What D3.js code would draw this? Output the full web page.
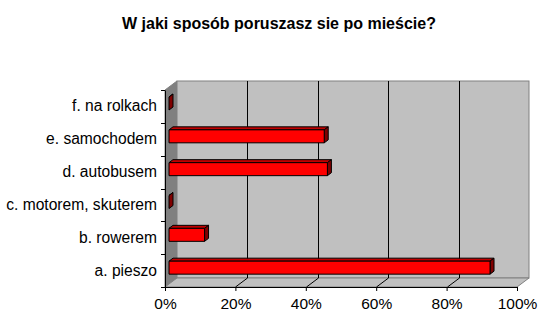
<!DOCTYPE html>
<html>
<head>
<meta charset="utf-8">
<script src="https://cdn.jsdelivr.net/npm/d3@7"></script>
<style>
  body { margin: 0; background: #fff; }
  text { font-family: "Liberation Sans", Arial, sans-serif; }
</style>
</head>
<body>
<div id="chart"></div>
<script>
const TITLE = 'W jaki sposób poruszasz sie po mieście?';
const categories = ['a. pieszo', 'b. rowerem', 'c. motorem, skuterem', 'd. autobusem', 'e. samochodem', 'f. na rolkach'];
const values = [0.912, 0.101, 0, 0.450, 0.441, 0];
const tickValues = [0, 0.2, 0.4, 0.6, 0.8, 1];

const WIDTH = 552;
const HEIGHT = 324;

// front plane of the 3d box
const plot = { left: 165, right: 517, top: 90, bottom: 287 };
// wall depth
const DX = 12;
const DY = -9;
// bar depth
const BX = 4;
const BY = -3;

const svg = d3.select('#chart')
  .append('svg')
  .attr('width', WIDTH)
  .attr('height', HEIGHT);

const x = d3.scaleLinear()
  .domain([0, 1])
  .range([plot.left, plot.right]);

// top of the chart is the last category
const y = d3.scaleBand()
  .domain(categories.slice().reverse())
  .range([plot.top, plot.bottom]);

const pts = arr => arr.map(p => p.join(',')).join(' ');

// left wall
svg.append('polygon')
  .attr('points', pts([
    [plot.left, plot.top], [plot.left + DX, plot.top + DY],
    [plot.left + DX, plot.bottom + DY], [plot.left, plot.bottom]
  ]))
  .attr('fill', '#808080')
  .attr('stroke', '#808080');

// back wall
svg.append('rect')
  .attr('x', plot.left + DX)
  .attr('y', plot.top + DY)
  .attr('width', plot.right - plot.left)
  .attr('height', plot.bottom - plot.top)
  .attr('fill', '#c0c0c0')
  .attr('stroke', '#808080');

// floor
svg.append('polygon')
  .attr('points', pts([
    [plot.left, plot.bottom], [plot.right, plot.bottom],
    [plot.right + DX, plot.bottom + DY], [plot.left + DX, plot.bottom + DY]
  ]))
  .attr('fill', '#c0c0c0')
  .attr('stroke', '#808080');

// gridlines: back wall + floor
tickValues.slice(1, -1).forEach(t => {
  const gx = Math.round(x(t)) + 0.5;
  svg.append('line')
    .attr('x1', gx + DX).attr('x2', gx + DX)
    .attr('y1', plot.top + DY).attr('y2', plot.bottom + DY)
    .attr('stroke', '#000');
  svg.append('line')
    .attr('x1', gx).attr('y1', plot.bottom)
    .attr('x2', gx + DX).attr('y2', plot.bottom + DY)
    .attr('stroke', '#000');
});

// bars
const data = categories.map((c, i) => ({ cat: c, value: values[i] }));
const bars = svg.append('g');

data.forEach(d => {
  const x0 = x(0) + BX;
  const x1 = x(d.value) + BX;
  const y0 = y(d.cat) + 7;
  const y1 = y0 + 13;
  const g = bars.append('g').attr('stroke', '#000').attr('stroke-linejoin', 'round');
  // top face
  g.append('polygon')
    .attr('points', pts([[x0, y0], [x0 + BX, y0 + BY], [x1 + BX, y0 + BY], [x1, y0]]))
    .attr('fill', '#c00000');
  // right face
  g.append('polygon')
    .attr('points', pts([[x1, y0], [x1 + BX, y0 + BY], [x1 + BX, y1 + BY], [x1, y1]]))
    .attr('fill', '#800000');
  // front face
  if (d.value > 0) {
    g.append('rect')
      .attr('x', x0).attr('y', y0)
      .attr('width', x1 - x0).attr('height', y1 - y0)
      .attr('fill', '#ff0000');
  }
});

// axes
svg.append('g')
  .attr('transform', 'translate(0,' + plot.bottom + ')')
  .call(d3.axisBottom(x).tickValues(tickValues).tickFormat(d3.format('.0%')).tickSize(4).tickPadding(7))
  .call(g => g.select('.domain').attr('stroke', '#000'))
  .call(g => g.selectAll('text').attr('font-size', 15.5).attr('fill', '#000').attr('font-family', '"Liberation Sans", Arial, sans-serif'));

svg.append('g')
  .attr('transform', 'translate(' + plot.left + ',0)')
  .call(d3.axisLeft(y).tickSize(0).tickPadding(8))
  .call(g => g.select('.domain').attr('stroke', '#000'))
  .call(g => g.selectAll('text').attr('font-size', 15.6).attr('fill', '#000').attr('font-family', '"Liberation Sans", Arial, sans-serif'));

// y tick marks at band edges
svg.append('g')
  .selectAll('line')
  .data(d3.range(categories.length + 1))
  .enter()
  .append('line')
  .attr('x1', plot.left - 4)
  .attr('x2', plot.left)
  .attr('y1', i => Math.round(plot.top + i * y.step()) + 0.5)
  .attr('y2', i => Math.round(plot.top + i * y.step()) + 0.5)
  .attr('stroke', '#000');

// title
svg.append('text')
  .attr('x', 279)
  .attr('y', 29)
  .attr('text-anchor', 'middle')
  .attr('font-size', 16)
  .attr('font-weight', 'bold')
  .text(TITLE);
</script>
</body>
</html>
